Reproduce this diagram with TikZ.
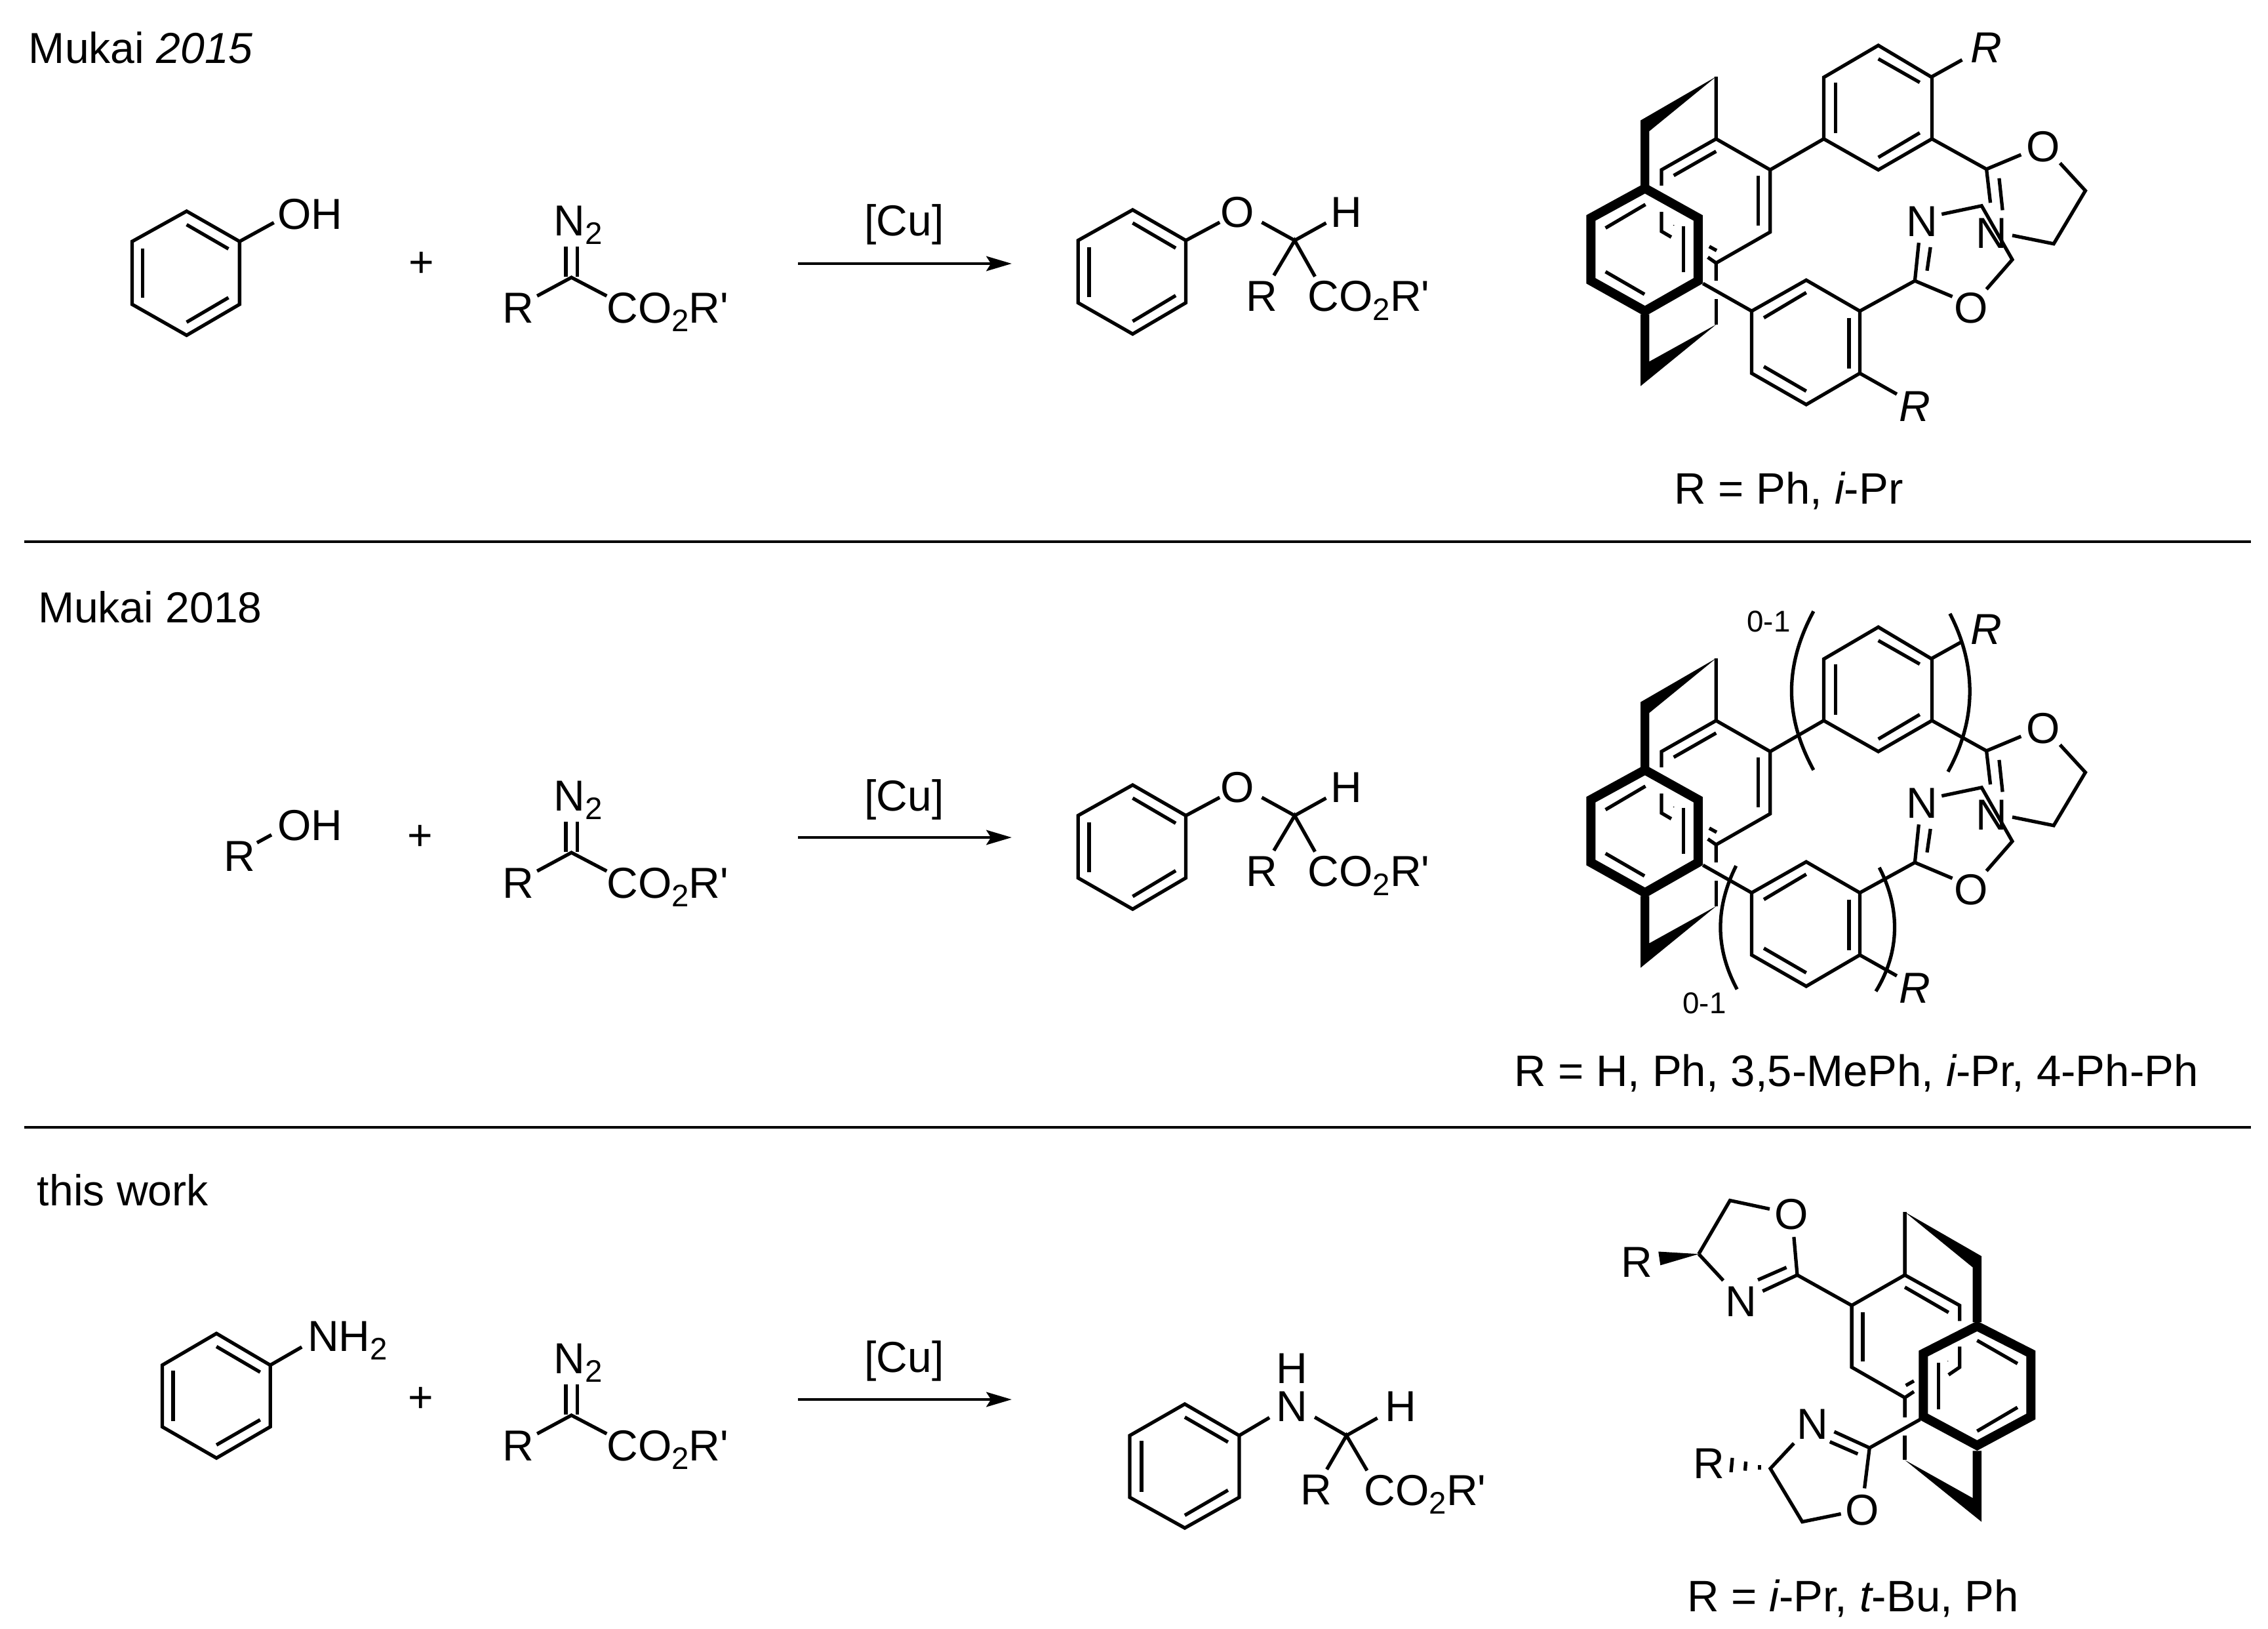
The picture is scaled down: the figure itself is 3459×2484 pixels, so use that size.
\documentclass[tikz,border=0pt]{standalone}
\usepackage{fontspec}
\setmainfont{Liberation Sans}
\usetikzlibrary{arrows.meta}
\newcommand\subtwo{\raisebox{-0.2em}{\fontsize{13.5}{15}\selectfont 2}}
\newcommand\smallnum[1]{\fontsize{13}{15}\selectfont #1}
\tikzset{
  x=0.01cm,y=-0.01cm,
  bond/.style={line width=1.5pt,line cap=butt,line join=miter,draw=black},
  bold/.style={line width=4pt,line cap=butt,line join=miter,draw=black},
  fillw/.style={fill=black,draw=none},
  lab/.style={inner sep=0pt,outer sep=0pt,anchor=base,font=\fontsize{18.8}{22}\selectfont},
  labw/.style={lab,anchor=base west},
  labbig/.style={lab,font=\fontsize{19.1}{22}\selectfont},
  rule/.style={line width=1.3pt,draw=black},
  rxn/.style={line width=1.3pt,draw=black,-{Stealth[length=11pt,width=6.4pt,inset=2pt]}},
}
\newcommand\ligand{%
  % back ring
  \draw[bond] (427,228)--(427,413)--(315,505)--(315,552);
  \draw[bond] (427,413)--(538,505)--(538,690)--(427,782)--(427,835);
  \draw[bond] (340,522)--(427,450);
  \draw[bond] (513,522)--(513,670);
  \draw[bond] (315,630)--(315,688)--(335,705);
  \draw[bond] (413,733)--(428,745);
  \draw[bond] (410,765)--(427,782);
  \draw[bond] (427,890)--(427,965);
  \fill (340,670) circle[radius=1.4];
  % linker wedges
  \fill[fillw] (427,228)--(272,358)--(272,552)--(290,552)--(290,390)--cycle;
  \fill[fillw] (427,965)--(290,1075)--(290,935)--(272,935)--(272,1148)--cycle;
  % front ring
  \draw[bold] (281,560)--(390,648)--(390,835)--(281,925)--(170,835)--(170,648)--cycle;
  \draw[bond] (200,678)--(282,608);
  \draw[bond] (360,672)--(360,810);
  \draw[bond] (200,808)--(280,875);
  % upper aryl
  \draw[bond] (538,505)--(648,413);
  \draw[bond] (648,413)--(648,230)--(760,135)--(870,230)--(870,413)--(760,505)--cycle;
  \draw[bond] (672,245)--(672,395);
  \draw[bond] (760,175)--(845,245);
  \draw[bond] (760,468)--(845,395);
  \draw[bond] (870,228)--(932,178);
  \draw[bond] (870,413)--(982,503)--(1053,460);
  \draw[bond] (1133,485)--(1185,567)--(1120,725)--(1035,700);
  \draw[bond] (982,503)--(990,603);
  \draw[bond] (1008,530)--(1015,625);
  % lower oxazoline
  \draw[bond] (890,637)--(972,612)--(1035,772)--(982,860);
  \draw[bond] (912,882)--(835,835)--(843,722);
  \draw[bond] (860,805)--(867,735);
  \draw[bond] (835,835)--(722,925);
  % lower aryl
  \draw[bond] (722,925)--(612,833)--(500,925)--(500,1110)--(612,1203)--(722,1110)--cycle;
  \draw[bond] (525,945)--(612,870);
  \draw[bond] (700,945)--(700,1095);
  \draw[bond] (525,1090)--(612,1163);
  \draw[bond] (400,843)--(500,925);
  \draw[bond] (722,1110)--(798,1172);
  \node[lab] (r1) at (982,187) {\itshape R};
  \node[lab] (o1) at (1098,480) {O};
  \node[lab] (n1) at (993,738) {N};
  \node[lab] (n2) at (850,703) {N};
  \node[lab] (o2) at (950,960) {O};
  \node[lab] (r2) at (835,1252) {\itshape R};
}
\newcommand\diazo{%
  \draw[bond] (1122,733)--(1122,822);
  \draw[bond] (1145,733)--(1145,822);
  \draw[bond] (1065,880)--(1133,825)--(1203,880);
  \node[labw] (n) at (1098,701) {N\subtwo};
  \node[lab] (r) at (1028,960) {R};
  \node[labw] (e) at (1203,960) {CO\subtwo R\textquotesingle};
}
\newcommand\ethera{%
  \draw[bond] (893,500)--(783,360)--(670,500)--(670,785)--(783,928)--(893,785)--cycle;
  \draw[bond] (783,420)--(872,535);
  \draw[bond] (693,530)--(693,760);
  \draw[bond] (783,870)--(872,752);
  \draw[bond] (893,500)--(963,417);
  \draw[bond] (1050,417)--(1118,500)--(1183,420);
  \draw[bond] (1075,660)--(1118,500)--(1160,665);
  \node[lab] (o) at (1000,440) {O};
  \node[lab] (h) at (1225,440) {H};
  \node[lab] (r) at (1050,825) {R};
  \node[labw] (e) at (1145,825) {CO\subtwo R\textquotesingle};
}
\begin{document}
\begin{tikzpicture}
\useasboundingbox (0,0) rectangle (3459,2484);
\fill[white] (0,0) rectangle (3459,2484);
% section rules
\coordinate (ruleAa) at (37,826); \coordinate (ruleAb) at (3433,826);
\coordinate (ruleBa) at (37,1719); \coordinate (ruleBb) at (3433,1719);
\draw[rule] (ruleAa)--(ruleAb);
\draw[rule] (ruleBa)--(ruleBb);
% row labels
\node[labw] (t1) at (44,96) {Mukai \itshape 2015};
\node[labw] (t2) at (58,949) {Mukai 2018};
\node[labw] (t3) at (57,1838) {this work};
% ----- row 1
\begin{scope}[xscale=0.7692,yscale=0.5128]
  \draw[bond] (475,718)--(370,628)--(262,718)--(262,905)--(370,997)--(475,905)--cycle;
  \draw[bond] (370,668)--(453,740);
  \draw[bond] (283,740)--(283,885);
  \draw[bond] (370,958)--(453,885);
  \draw[bond] (475,718)--(543,662);
  \node[lab] (oh) at (615,682) {OH};
  \node[lab,anchor=center] (plusA) at (836,787) {+};
\end{scope}
\begin{scope}[xscale=0.7692,yscale=0.5128,name prefix=dA-]\diazo\end{scope}
\coordinate (arAa) at (1217,402); \coordinate (arAb) at (1543,402);
\draw[rxn] (arAa)--(arAb);
\node[lab] (cuA) at (1379,359) {[Cu]};
\begin{scope}[shift={(1150,200)},xscale=0.7375,yscale=0.3333,name prefix=pA-]\ethera\end{scope}
\begin{scope}[shift={(2300,0)},xscale=0.743,yscale=0.5128,name prefix=lA-]\ligand\end{scope}
\node[labbig] (rA) at (2728,768) {R = Ph, \itshape i\upshape -Pr};
% ----- row 2
\coordinate (rohA) at (392,1285); \coordinate (rohB) at (414,1273);
\draw[bond] (rohA)--(rohB);
\node[lab] (rohr) at (365,1328) {R};
\node[labw] (rohoh) at (423,1281) {OH};
\node[lab,anchor=center] (plusB) at (641,1277) {+};
\begin{scope}[shift={(0,877)},xscale=0.7692,yscale=0.5128,name prefix=dB-]\diazo\end{scope}
\coordinate (arBa) at (1217,1277); \coordinate (arBb) at (1543,1277);
\draw[rxn] (arBa)--(arBb);
\node[lab] (cuB) at (1379,1236) {[Cu]};
\begin{scope}[shift={(1150,1077)},xscale=0.7375,yscale=0.3333,name prefix=pB-]\ethera\end{scope}
\begin{scope}[shift={(2300,887)},xscale=0.743,yscale=0.5128,name prefix=lB-]
  \ligand
  \draw[bond] (627,88) .. controls (567,250) and (567,400) .. (627,560);
  \draw[bond] (907,95) .. controls (962,250) and (962,410) .. (903,565);
  \draw[bond] (468,845) .. controls (425,970) and (425,1090) .. (470,1212);
  \draw[bond] (762,850) .. controls (805,970) and (805,1100) .. (755,1218);
  \node[lab,font=\smallnum{}] (nA) at (535,150) {0-1};
  \node[lab,font=\smallnum{}] (nB) at (403,1285) {0-1};
\end{scope}
\node[labbig] (rB) at (2831,1656) {R = H, Ph, 3,5-MePh, \itshape i\upshape -Pr, 4-Ph-Ph};
% ----- row 3
\begin{scope}[shift={(150,1950)},xscale=0.641,yscale=0.3333]
  \draw[bond] (409,395)--(281,250)--(152,395)--(152,677)--(281,820)--(409,677)--cycle;
  \draw[bond] (281,310)--(385,427);
  \draw[bond] (178,420)--(178,650);
  \draw[bond] (281,760)--(385,645);
  \draw[bond] (409,395)--(484,312);
  \node[labw] (nh) at (498,332) {NH\subtwo};
  \node[lab,anchor=center] (plusC) at (767,552) {+};
\end{scope}
\begin{scope}[shift={(0,1735)},xscale=0.7692,yscale=0.5128,name prefix=dC-]\diazo\end{scope}
\coordinate (arCa) at (1217,2134); \coordinate (arCb) at (1543,2134);
\draw[rxn] (arCa)--(arCb);
\node[lab] (cuC) at (1379,2092) {[Cu]};
\begin{scope}[shift={(1650,2000)},xscale=0.4484,yscale=0.3333]
  \draw[bond] (535,567)--(350,423)--(163,567)--(163,850)--(350,990)--(535,850)--cycle;
  \draw[bond] (350,483)--(497,597);
  \draw[bond] (203,592)--(203,825);
  \draw[bond] (350,932)--(497,817);
  \draw[bond] (535,567)--(638,485);
  \draw[bond] (792,483)--(900,567)--(1005,487);
  \draw[bond] (833,722)--(900,567)--(970,727);
  \node[lab] (pnh) at (715,328) {H};
  \node[lab] (pn) at (715,503) {N};
  \node[lab] (ph) at (1085,503) {H};
  \node[lab] (pr) at (797,885) {R};
  \node[labw] (pe) at (960,887) {CO\subtwo R\textquotesingle};
\end{scope}
% third ligand
\begin{scope}[shift={(2400,1760)},xscale=0.5128,yscale=0.464]
  \draw[bond] (372,328)--(465,152)--(583,180);
  \fill[fillw] (372,328)--(252,320)--(258,365)--cycle;
  \draw[bond] (655,272)--(665,397)--(562,450);
  \draw[bond] (633,372)--(548,413);
  \draw[bond] (445,415)--(372,328);
  \draw[bond] (665,397)--(827,497);
  \draw[bond] (985,190)--(985,397)--(1148,497)--(1148,548);
  \draw[bond] (985,397)--(827,497)--(827,700)--(985,800)--(985,865);
  \draw[bond] (860,520)--(860,680);
  \draw[bond] (985,437)--(1115,520);
  \draw[bond] (1148,632)--(1148,700)--(1115,725);
  \draw[bond] (1012,745)--(988,760);
  \draw[bond] (1012,780)--(985,800);
  \draw[bond] (985,925)--(985,1005);
  \fill (1113,680) circle[radius=1.4];
  \fill[fillw] (985,190)--(1213,335)--(1213,552)--(1187,552)--(1187,372)--cycle;
  \fill[fillw] (985,1005)--(1187,1130)--(1187,975)--(1213,975)--(1213,1208)--cycle;
  \draw[bold] (1200,565)--(1360,655)--(1360,862)--(1200,957)--(1040,862)--(1040,655)--cycle;
  \draw[bond] (1200,612)--(1320,688);
  \draw[bond] (1085,685)--(1085,838);
  \draw[bond] (1200,910)--(1320,832);
  \draw[bond] (1030,872)--(880,965)--(775,912);
  \draw[bond] (845,985)--(762,945);
  \draw[bond] (880,965)--(865,1098);
  \draw[bond] (655,950)--(585,1033)--(680,1208)--(795,1182);
  \draw[bond] (553,1022)--(553,1037);
  \draw[bond] (512,1010)--(510,1040);
  \draw[bond] (472,998)--(468,1045);
  \node[lab] (lr1) at (187,405) {R};
  \node[lab] (lo1) at (647,247) {O};
  \node[lab] (ln1) at (497,533) {N};
  \node[lab] (ln2) at (710,936) {N};
  \node[lab] (lo2) at (858,1218) {O};
  \node[lab] (lr2) at (403,1065) {R};
\end{scope}
\node[labbig] (rC) at (2826,2457) {R = \itshape i\upshape -Pr, \itshape t\upshape -Bu, Ph};
\end{tikzpicture}
\end{document}
